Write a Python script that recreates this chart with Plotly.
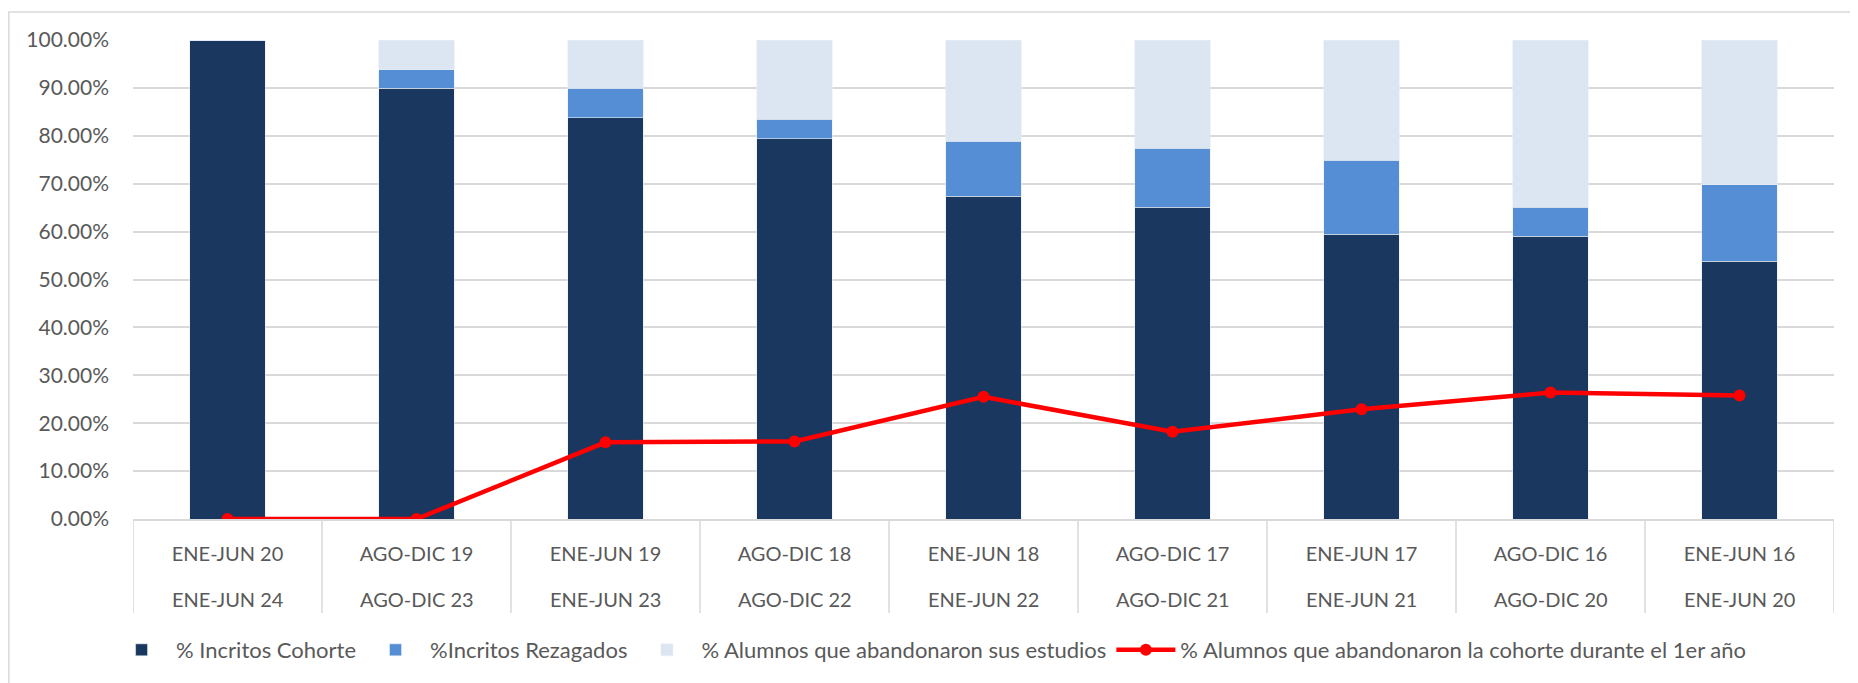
import plotly.graph_objects as go

# Periodos de ingreso (fila superior) y de egreso (fila inferior)
ingreso = ['ENE-JUN 20', 'AGO-DIC 19', 'ENE-JUN 19', 'AGO-DIC 18', 'ENE-JUN 18',
           'AGO-DIC 17', 'ENE-JUN 17', 'AGO-DIC 16', 'ENE-JUN 16']
egreso = ['ENE-JUN 24', 'AGO-DIC 23', 'ENE-JUN 23', 'AGO-DIC 22', 'ENE-JUN 22',
          'AGO-DIC 21', 'ENE-JUN 21', 'AGO-DIC 20', 'ENE-JUN 20']

cohorte = [1.000, 0.899, 0.838, 0.794, 0.674, 0.651, 0.594, 0.590, 0.538]
rezagados = [0.000, 0.039, 0.061, 0.041, 0.115, 0.123, 0.155, 0.061, 0.160]
abandono = [round(1 - c - r, 3) for c, r in zip(cohorte, rezagados)]
abandono_1er = [0.000, 0.000, 0.160, 0.162, 0.255, 0.182, 0.229, 0.264, 0.258]

GRIS = '#D9D9D9'
TEXTO = '#595959'

fig = go.Figure()
fig.add_trace(go.Bar(x=ingreso, y=cohorte, name='% Incritos Cohorte',
                     marker=dict(color='#19375F', line=dict(color='#E8EDF4', width=0.6))))
fig.add_trace(go.Bar(x=ingreso, y=rezagados, name='%Incritos Rezagados',
                     marker=dict(color='#558ED5', line=dict(color='#E8EDF4', width=0.6))))
fig.add_trace(go.Bar(x=ingreso, y=abandono, name='% Alumnos que abandonaron sus estudios',
                     marker=dict(color='#DCE6F2', line=dict(color='#E8EDF4', width=0.6))))
fig.add_trace(go.Scatter(x=ingreso, y=abandono_1er, mode='lines+markers',
                         name='% Alumnos que abandonaron la cohorte durante el 1er año',
                         line=dict(color='#FF0000', width=4.5),
                         marker=dict(color='#FF0000', size=12)))

# lineas divisorias entre categorias del eje x
divisores = [dict(type='line', xref='x', yref='paper', x0=i - 0.5, x1=i - 0.5,
                  y0=0, y1=-0.196, line=dict(color=GRIS, width=1.5))
             for i in range(len(ingreso) + 1)]

# segunda fila de etiquetas (periodo de egreso)
fila2 = [dict(x=a, y=-0.166, xref='x', yref='paper', text=b, showarrow=False,
              yanchor='middle', font=dict(size=20, color=TEXTO))
         for a, b in zip(ingreso, egreso)]

fig.update_layout(
    barmode='stack',
    bargap=0.6,
    width=1858, height=683,
    margin=dict(l=125, r=32, t=32, b=172),
    plot_bgcolor='white',
    paper_bgcolor='white',
    font=dict(family='Lato', size=20, color=TEXTO),
    legend=dict(orientation='h', x=0.468, xanchor='center', y=-0.2735, yanchor='middle',
                font=dict(size=22, color=TEXTO), itemwidth=59, traceorder='normal'),
    shapes=[dict(type='rect', xref='paper', yref='paper',
                 x0=-0.073, x1=1.2, y0=-0.4, y1=1.0585,
                 line=dict(color=GRIS, width=1.5), layer='below')] + divisores,
    annotations=fila2,
)

fig.update_yaxes(range=[0, 1], dtick=0.1, tickformat='.2%', showgrid=True,
                 gridcolor=GRIS, gridwidth=1.5, zeroline=False, automargin=False,
                 ticks='', ticklabelstandoff=23, tickfont=dict(size=21, color=TEXTO))
fig.update_xaxes(type='category', range=[-0.5, len(ingreso) - 0.5], showline=True,
                 linecolor=GRIS, linewidth=1.5, automargin=False,
                 ticks='', ticklabelstandoff=16, tickfont=dict(size=20, color=TEXTO))

fig.write_html("out.html")
